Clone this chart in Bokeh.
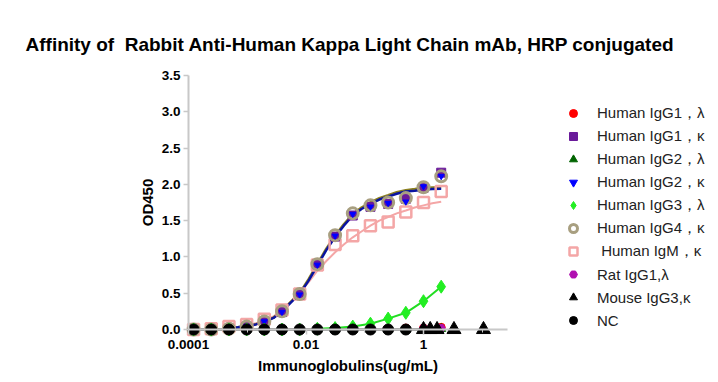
from bokeh.plotting import figure
from bokeh.models import (Range1d, FixedTicker, CustomJSTickFormatter, Legend, LegendItem,
                          Label, LinearAxis, LogAxis)
from bokeh.embed import file_html
from bokeh.resources import INLINE

# ---------------- data ----------------
conc = [0.000122, 0.000244, 0.000488, 0.000977, 0.00195, 0.0039, 0.0078, 0.0156,
        0.03125, 0.0625, 0.125, 0.25, 0.5, 1.0, 2.0]

igg1_lambda = [0, 0, 0, 0, 0, 0, 0, 0, 0, 0, 0, 0, 0.02, 0.02, 0.03]
igg1_kappa = [0, 0, 0.01, 0.04, 0.10, 0.24, 0.48, 0.90, 1.28, 1.57, 1.69, 1.73, 1.80, 1.95, 2.16]
igg2_lambda = [0, 0, 0, 0, 0, 0, 0, 0, 0, 0, 0, 0, 0, 0.01, 0.01]
igg2_kappa = [0, 0, 0.01, 0.04, 0.11, 0.24, 0.48, 0.89, 1.29, 1.59, 1.69, 1.74, 1.76, 1.97, 2.11]
igg3_lambda = [0, 0, 0, 0, 0, 0, 0, 0.01, 0.02, 0.04, 0.08, 0.15, 0.23, 0.39, 0.59]
igg4_kappa = [0, 0, 0.01, 0.04, 0.11, 0.25, 0.49, 0.90, 1.30, 1.60, 1.71, 1.75, 1.81, 1.96, 2.11]
igm_kappa = [0.0, 0.01, 0.04, 0.07, 0.14, 0.27, 0.49, 0.89, 1.17, 1.29, 1.43, 1.48, 1.62, 1.75, 1.90]
rat_igg1_lambda = [0, 0, 0, 0, 0, 0, 0, 0, 0, 0, 0, 0, 0.01, 0.02, 0.02]
nc = [0, 0, 0, 0, 0, 0, 0, 0, 0, 0, 0, 0, 0, 0, 0]

mouse_conc = [1.0, 1.3, 1.7, 3.3, 10.5]
mouse_igg3_kappa = [0, 0, 0, 0, 0]

# fitted curves
fit_conc = [0.00049, 0.00069, 0.00098, 0.0014, 0.00195, 0.0028, 0.0039, 0.0055, 0.0078,
            0.011, 0.0156, 0.022, 0.031, 0.044, 0.0625, 0.088, 0.125, 0.177, 0.25,
            0.35, 0.5, 0.71, 1.0, 1.41, 2.0]
fit_igg2_kappa = [0.02, 0.03, 0.045, 0.07, 0.105, 0.16, 0.25, 0.37, 0.49, 0.67, 0.88, 1.09,
                  1.27, 1.43, 1.57, 1.66, 1.73, 1.79, 1.83, 1.87, 1.90, 1.91, 1.93, 1.935, 1.94]
fit_igg4_kappa = [0.02, 0.03, 0.046, 0.072, 0.108, 0.165, 0.255, 0.38, 0.50, 0.69, 0.90, 1.11,
                  1.29, 1.45, 1.59, 1.68, 1.75, 1.81, 1.85, 1.89, 1.92, 1.935, 1.95, 1.955, 1.96]
fit_igm_kappa = [0.02, 0.035, 0.055, 0.085, 0.125, 0.18, 0.27, 0.38, 0.51, 0.65, 0.81, 0.94,
                 1.06, 1.17, 1.27, 1.35, 1.43, 1.50, 1.55, 1.60, 1.64, 1.68, 1.71, 1.74, 1.76]

y_ticks = [0.0, 0.5, 1.0, 1.5, 2.0, 2.5, 3.0, 3.5]
x_major = [0.0001, 0.01, 1]
x_minor = [0.001, 0.1, 10]
x_axis_end = 26.9

title_text = "Affinity of\u00a0 Rabbit Anti-Human Kappa Light Chain mAb, HRP conjugated"
labels = ["Human IgG1\uff0c\u03bb", "Human IgG1\uff0c\u03ba", "Human IgG2\uff0c\u03bb",
          "Human IgG2\uff0c\u03ba", "Human IgG3\uff0c\u03bb", "Human IgG4\uff0c\u03ba",
          "\u00a0Human IgM\uff0c\u03ba", "Rat IgG1,\u03bb", "Mouse IgG3,\u03ba", "NC"]

FONT = "Liberation Sans"

# the frame covers the whole canvas; axes are pinned inside it
p = figure(width=718, height=382, x_axis_type="log",
           x_axis_location=None, y_axis_location=None,
           output_backend="svg", toolbar_location=None,
           x_range=Range1d(10 ** -7.2, 10 ** 5.021), y_range=Range1d(-0.730, 4.532),
           min_border=0)
p.outline_line_color = None
p.grid.visible = False
p.background_fill_color = "white"
p.border_fill_color = "white"

AX = "#c8c8c8"
xaxis = LogAxis(ticker=FixedTicker(ticks=x_major, minor_ticks=x_minor),
                formatter=CustomJSTickFormatter(code="return tick.toString();"),
                axis_label="Immunoglobulins(ug/mL)", bounds=(0.0001, x_axis_end),
                fixed_location=0)
yaxis = LinearAxis(ticker=FixedTicker(ticks=y_ticks, minor_ticks=[]),
                   formatter=CustomJSTickFormatter(code="return tick.toFixed(1);"),
                   axis_label="OD450", bounds=(0, 3.5), fixed_location=0.0001)
for ax in (xaxis, yaxis):
    ax.axis_line_color = AX
    ax.axis_line_width = 2
    ax.major_tick_line_color = AX
    ax.minor_tick_line_color = AX
    ax.major_tick_line_width = 1.5
    ax.major_tick_out = 5
    ax.major_tick_in = 0
    ax.minor_tick_out = 3
    ax.minor_tick_in = 0
    ax.major_label_text_font = FONT
    ax.major_label_text_font_style = "bold"
    ax.major_label_text_font_size = "13.5px"
    ax.major_label_text_color = "black"
    ax.axis_label_text_font = FONT
    ax.axis_label_text_font_style = "bold"
    ax.axis_label_text_font_size = "15px"
    ax.axis_label_text_color = "black"
xaxis.major_label_standoff = 5
xaxis.axis_label_standoff = 5
yaxis.major_label_standoff = 3
yaxis.axis_label_standoff = 3
p.add_layout(xaxis, "below")
p.add_layout(yaxis, "left")

# title
p.add_layout(Label(x=25, y=338, x_units="screen", y_units="screen", text=title_text,
                   text_font=FONT, text_font_size="19px", text_font_style="bold",
                   text_color="black", text_baseline="middle"))

# lines
p.line(conc, nc, line_color="#222222", line_width=2)
p.line(fit_conc, fit_igm_kappa, line_color="#f4a6a6", line_width=2)
p.line(fit_conc, fit_igg4_kappa, line_color="#8c8020", line_width=2.5)
p.line(fit_conc, fit_igg2_kappa, line_color="#0a14a0", line_width=2.5)
p.line(conc[7:], igg3_lambda[7:], line_color="#22dd22", line_width=2)

# markers
r_igm = p.scatter(conc, igm_kappa, marker="square", size=11, fill_color=None,
                  line_color="#f4a6a6", line_width=2.5)
r_g1k = p.scatter(conc, igg1_kappa, marker="square", size=9, fill_color="#6a1a9a",
                  line_color="#6a1a9a")
r_g4k = p.scatter(conc, igg4_kappa, marker="circle", size=11, fill_color=None,
                  line_color="#a89f80", line_width=3)
r_g2k = p.scatter(conc, igg2_kappa, marker="inverted_triangle", size=6, fill_color="#0000ff",
                  line_color="#0000ff")
r_g3l = p.scatter(conc, igg3_lambda, marker="diamond", size=13, fill_color="#22ee22",
                  line_color="#22ee22")
r_g1l = p.scatter(conc, igg1_lambda, marker="circle", size=8, fill_color="#ff0000",
                  line_color="#ff0000")
r_g2l = p.scatter(conc, igg2_lambda, marker="triangle", size=9, fill_color="#006400",
                  line_color="#006400")
r_rat = p.scatter(conc, rat_igg1_lambda, marker="hex", size=8, fill_color="#b010b0",
                  line_color="#b010b0")
r_nc = p.scatter(conc[:13], nc[:13], marker="circle", size=11, fill_color="black",
                 line_color="black")
r_mouse = p.scatter(mouse_conc, mouse_igg3_kappa, marker="triangle", size=14,
                    fill_color="black", line_color="black")

renderers = [r_g1l, r_g1k, r_g2l, r_g2k, r_g3l, r_g4k, r_igm, r_rat, r_mouse, r_nc]
items = [LegendItem(label=l, renderers=[r]) for l, r in zip(labels, renderers)]
legend = Legend(items=items, location=(563, 52), border_line_color=None,
                background_fill_alpha=0, padding=0, margin=0, spacing=3,
                glyph_height=20, glyph_width=20, label_height=20, label_standoff=14,
                label_text_font=FONT, label_text_font_size="15px",
                label_text_color="#222222")
p.add_layout(legend, "center")

open("out.html", "w").write(file_html(p, INLINE))
